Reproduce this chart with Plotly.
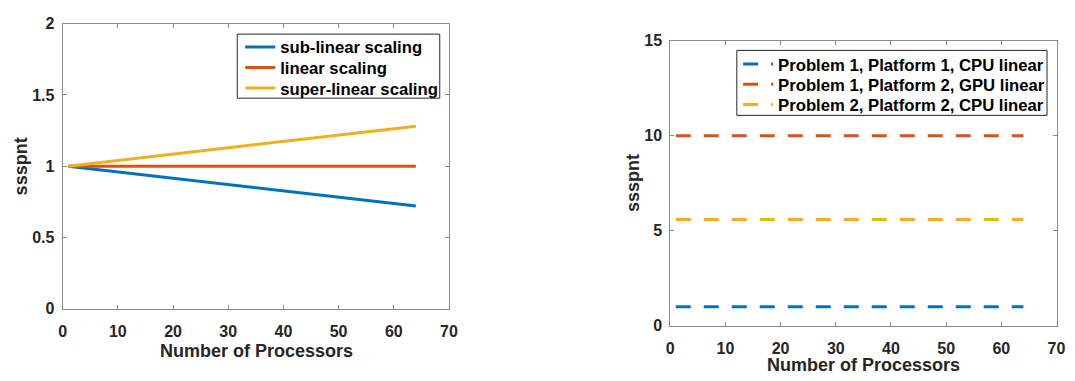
import plotly.graph_objects as go

# Left panel data
procs_left = [1, 32, 64]
sub_linear = [1.0, 0.86, 0.72]
linear = [1.0, 1.0, 1.0]
super_linear = [1.0, 1.14, 1.28]
left_names = ["sub-linear scaling", "linear scaling", "super-linear scaling"]

# Right panel data
procs_right = [1, 64]
p1_plat1_cpu = [1.0, 1.0]
p1_plat2_gpu = [10.0, 10.0]
p2_plat2_cpu = [5.6, 5.6]
right_names = ["Problem 1, Platform 1, CPU linear",
               "Problem 1, Platform 2, GPU linear",
               "Problem 2, Platform 2, CPU linear"]

x_ticks = [0, 10, 20, 30, 40, 50, 60, 70]
left_yticks = [0, 0.5, 1, 1.5, 2]
left_ytick_text = ["0", "0.5", "1", "1.5", "2"]
right_yticks = [0, 5, 10, 15]

colors = ["#0072BD", "#D95319", "#EDB120"]

W, H = 1075, 381
OFF = 8  # default page body margin in the browser
FONT = "Liberation Sans, Arial, sans-serif"

def px_x(p):
    return (p - OFF) / W

def px_y(p):
    return 1 - (p - OFF) / H

fig = go.Figure()

legend_font = dict(family=FONT, size=16.7, color="black", weight="bold")
legend_layouts = {}
left_rows = [40.5, 62.0, 83.5]
right_rows = [58.5, 79.7, 100.8]

k = 1
for ys, name, c, row in zip([sub_linear, linear, super_linear], left_names, colors, left_rows):
    lid = "legend" if k == 1 else f"legend{k}"
    fig.add_trace(go.Scatter(x=procs_left, y=ys, mode="lines", name=name,
                             line=dict(color=c, width=3),
                             xaxis="x", yaxis="y", legend=lid))
    legend_layouts[lid] = dict(x=px_x(239), y=px_y(row), xanchor="left", yanchor="middle",
                               bgcolor="rgba(0,0,0,0)", borderwidth=0,
                               font=legend_font, itemwidth=30)
    k += 1

for ys, name, c, row in zip([p1_plat1_cpu, p1_plat2_gpu, p2_plat2_cpu], right_names, colors, right_rows):
    lid = f"legend{k}"
    fig.add_trace(go.Scatter(x=procs_right, y=ys, mode="lines", name=name,
                             line=dict(color=c, width=3, dash="15px,13px"),
                             xaxis="x2", yaxis="y2", legend=lid))
    legend_layouts[lid] = dict(x=px_x(743), y=px_y(row), xanchor="left", yanchor="middle",
                               bgcolor="rgba(0,0,0,0)", borderwidth=0,
                               font=legend_font, itemwidth=30)
    k += 1

axis_common = dict(
    showgrid=False, zeroline=False, showline=True, linecolor="#8a8a8a",
    linewidth=1, mirror="ticks", ticks="inside", ticklen=4, tickcolor="#8a8a8a",
    tickfont=dict(family=FONT, size=16, color="#262626", weight="bold"),
)
xaxis_extra = dict(ticklabelstandoff=8)
yaxis_extra = dict(ticklabelstandoff=4)

fig.update_layout(
    width=W, height=H,
    margin=dict(l=0, r=0, t=0, b=0),
    paper_bgcolor="white", plot_bgcolor="white",
    showlegend=True,
    xaxis=dict(domain=[px_x(59.3), px_x(450.3)], range=[0, 70], tickvals=x_ticks,
               anchor="y", **axis_common, **xaxis_extra),
    yaxis=dict(domain=[px_y(314.3), px_y(16)], range=[0, 2], tickvals=left_yticks,
               ticktext=left_ytick_text, anchor="x", **axis_common, **yaxis_extra),
    xaxis2=dict(domain=[px_x(674.3), px_x(1065.3)], range=[0, 70], tickvals=x_ticks,
                anchor="y2", **axis_common, **xaxis_extra),
    yaxis2=dict(domain=[px_y(332.3), px_y(34)], range=[0, 15], tickvals=right_yticks,
                anchor="x2", **axis_common, **yaxis_extra),
    **legend_layouts,
)

# legend frames (MATLAB-style boxes)
fig.add_shape(type="rect", xref="paper", yref="paper",
              x0=px_x(236), x1=px_x(441), y0=px_y(94), y1=px_y(27),
              line=dict(color="#262626", width=1), fillcolor="rgba(0,0,0,0)", layer="below")
fig.add_shape(type="rect", xref="paper", yref="paper",
              x0=px_x(741.7), x1=px_x(1055.7), y0=px_y(112), y1=px_y(44),
              line=dict(color="#262626", width=1), fillcolor="rgba(0,0,0,0)", layer="below")

title_font = dict(family=FONT, size=18, color="#262626", weight="bold")
fig.add_annotation(text="Number of Processors", xref="paper", yref="paper",
                   x=px_x(255), y=px_y(346), xanchor="center", yanchor="top",
                   showarrow=False, font=title_font)
fig.add_annotation(text="Number of Processors", xref="paper", yref="paper",
                   x=px_x(870), y=px_y(361), xanchor="center", yanchor="top",
                   showarrow=False, font=title_font)
fig.add_annotation(text="ssspnt", xref="paper", yref="paper",
                   x=px_x(17.5), y=px_y(165), xanchor="center", yanchor="middle",
                   textangle=-90, showarrow=False, font=title_font)
fig.add_annotation(text="ssspnt", xref="paper", yref="paper",
                   x=px_x(636.5), y=px_y(183), xanchor="center", yanchor="middle",
                   textangle=-90, showarrow=False, font=title_font)

fig.write_html("out.html", config={"displayModeBar": False})
